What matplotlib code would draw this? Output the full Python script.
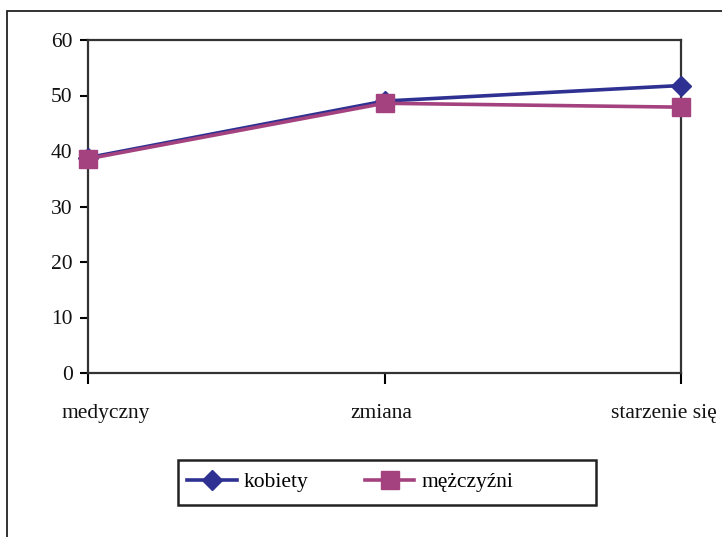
import matplotlib
matplotlib.use("Agg")
import matplotlib.pyplot as plt
import matplotlib.transforms as mtransforms
from matplotlib.patches import Rectangle

categories = ["medyczny", "zmiana", "starzenie się"]
kobiety = [38.8, 49.0, 51.8]
mezczyzni = [38.6, 48.6, 47.9]
series_names = ["kobiety", "mężczyźni"]
yticks = [0, 10, 20, 30, 40, 50, 60]

plt.rcParams['font.family'] = ['Liberation Serif', 'DejaVu Serif']

W, H = 722, 537
fig = plt.figure(figsize=(W / 100, H / 100), dpi=100)
ax = fig.add_axes([88 / W, 1 - 373 / H, (681 - 88) / W, (373 - 40) / H])

x = list(range(len(categories)))
blue = "#2E3192"
mag = "#A3427F"
ax.plot(x, kobiety, color=blue, lw=2.6, marker="D", ms=10, mec=blue, mfc=blue,
        label=series_names[0], zorder=3, clip_on=False)
ax.plot(x, mezczyzni, color=mag, lw=2.6, marker="s", ms=13, mec=mag, mfc=mag,
        label=series_names[1], zorder=4, clip_on=False)

ax.set_xlim(0, 2)
ax.set_ylim(0, 60)
ax.set_yticks(yticks)
ax.set_xticks(x)
ax.set_xticklabels(categories)
ax.tick_params(axis="y", direction="out", length=6, width=1.5, pad=5,
               labelsize=15.5)
ax.tick_params(axis="x", direction="out", length=8, width=1.5, pad=14,
               labelsize=15.5)
for s in ax.spines.values():
    s.set_linewidth(1.6)
    s.set_color("#333333")
ax.patch.set_alpha(0)

offsets = [18, -3, -17]
for lab, dx in zip(ax.get_xticklabels(), offsets):
    lab.set_transform(lab.get_transform() +
                      mtransforms.ScaledTranslation(dx / 100, 0, fig.dpi_scale_trans))
for lab in ax.get_yticklabels() + ax.get_xticklabels():
    lab.set_color("#111111")

leg = fig.legend(loc="center left", bbox_to_anchor=(187 / W, 1 - 482 / H),
                 ncol=2, frameon=False, fontsize=15.5,
                 handlelength=2.3, columnspacing=2.6, borderpad=0,
                 borderaxespad=0, handletextpad=0.35)

fig.patches.append(Rectangle((178 / W, 1 - 505 / H), (596 - 178) / W, 45 / H,
                             transform=fig.transFigure, fill=False,
                             edgecolor="#222222", lw=1.8))

fig.patches.append(Rectangle((7 / W, -0.1), 1.2, 1 - 11 / H + 0.1,
                             transform=fig.transFigure, fill=False,
                             edgecolor="#222222", lw=1.3, clip_on=False))

fig.savefig("out.png", dpi=100)
